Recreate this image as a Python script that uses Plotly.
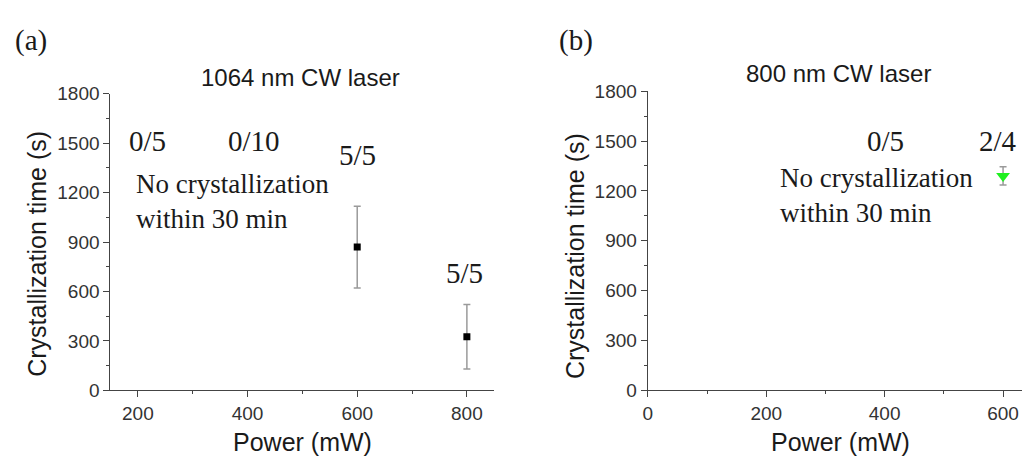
import plotly.graph_objects as go

# Panel (a): 1064 nm CW laser
a_power = [600, 800]
a_time = [869, 325]
a_err = [248, 196]

# Panel (b): 800 nm CW laser
b_power = [600]
b_time = [1290]
b_err = [55]

y_ticks = [0, 300, 600, 900, 1200, 1500, 1800]
a_x_ticks = [200, 400, 600, 800]
b_x_ticks = [0, 200, 400, 600]

SANS = "Liberation Sans, Arial, sans-serif"
SERIF = "Liberation Serif, Times New Roman, serif"
AX_COLOR = "#444444"
TXT = "#1a1a1a"

fig = go.Figure()

fig.add_trace(go.Scatter(
    x=a_power, y=a_time, mode="markers",
    marker=dict(symbol="square", size=7, color="black"),
    error_y=dict(type="data", array=a_err, visible=True, color="#9a9a9a", thickness=1.5, width=3.5),
    xaxis="x", yaxis="y", showlegend=False))

fig.add_trace(go.Scatter(
    x=b_power, y=b_time, mode="markers",
    marker=dict(symbol="triangle-down", size=12, color="#1ff01f"),
    error_y=dict(type="data", array=b_err, visible=True, color="#9a9a9a", thickness=1.5, width=3.5),
    xaxis="x2", yaxis="y2", showlegend=False))

def xax(domain, rng, ticks, anchor):
    return dict(domain=domain, range=rng, tickvals=ticks, anchor=anchor,
                showline=True, linecolor=AX_COLOR, linewidth=1.3, showgrid=False, zeroline=False,
                ticks="outside", ticklen=6, tickcolor=AX_COLOR, tickwidth=1.3,
                tickfont=dict(family=SANS, size=19, color="#333333"),
                minor=dict(dtick=100, ticks="outside", ticklen=3, tickcolor=AX_COLOR, tickwidth=1.3))

def yax(domain, anchor):
    return dict(domain=domain, range=[0, 1800], tickvals=y_ticks, anchor=anchor,
                showline=True, linecolor=AX_COLOR, linewidth=1.3, showgrid=False, zeroline=False,
                ticks="outside", ticklen=6, tickcolor=AX_COLOR, tickwidth=1.3,
                tickfont=dict(family=SANS, size=19, color="#333333"),
                minor=dict(dtick=150, ticks="outside", ticklen=3, tickcolor=AX_COLOR, tickwidth=1.3))

W, H = 1022, 464

fig.update_layout(
    width=W, height=H,
    margin=dict(l=0, r=0, t=0, b=0),
    paper_bgcolor="white", plot_bgcolor="white",
    xaxis=xax([106 / W, 491.7 / W], [150, 850], a_x_ticks, "y"),
    yaxis=yax([(H - 398.3) / H, (H - 87.7) / H], "x"),
    xaxis2=xax([646 / W, 1.0], [0, 632], b_x_ticks, "y2"),
    yaxis2=yax([(H - 398.3) / H, (H - 85) / H], "x2"),
)

ann = []
def serif_note(text, x, y, xref, yref, xanchor="center", size=29):
    ann.append(dict(text=text, x=x, y=y, xref=xref, yref=yref, showarrow=False,
                    xanchor=xanchor, yanchor="middle", align="left",
                    font=dict(family=SERIF, size=size, color=TXT)))

# panel (a) notes
serif_note("0/5", 217, 1514, "x", "y")
serif_note("0/10", 411, 1514, "x", "y")
serif_note("5/5", 600, 1427, "x", "y")
serif_note("5/5", 796, 709, "x", "y")
serif_note("No crystallization<br>within 30 min", 192, 1143, "x", "y", xanchor="left", size=27)
# panel (b) notes
serif_note("0/5", 402, 1501, "x2", "y2")
serif_note("2/4", 592, 1501, "x2", "y2")
serif_note("No crystallization<br>within 30 min", 220, 1174, "x2", "y2", xanchor="left", size=27)

# panel labels
serif_note("(a)", 8 / W, (H - 32) / H, "paper", "paper", xanchor="left", size=29)
serif_note("(b)", 555 / W, (H - 32) / H, "paper", "paper", xanchor="left", size=29)

def sans_note(text, x, y, angle=0, size=24):
    ann.append(dict(text=text, x=x, y=y, xref="paper", yref="paper", showarrow=False,
                    xanchor="center", yanchor="middle", textangle=angle,
                    font=dict(family=SANS, size=size, color=TXT)))

sans_note("1064 nm CW laser", 297 / W, (H - 71) / H)
sans_note("800 nm CW laser", 838 / W, (H - 67) / H)
sans_note("Crystallization time (s)", 32 / W, (H - 255.5) / H, angle=-90, size=25)
sans_note("Crystallization time (s)", 573 / W, (H - 257.5) / H, angle=-90, size=25)
sans_note("Power (mW)", 299 / W, (H - 452) / H, size=25)
sans_note("Power (mW)", 840 / W, (H - 452) / H, size=25)

fig.update_layout(annotations=ann)

fig.write_html("out.html")
